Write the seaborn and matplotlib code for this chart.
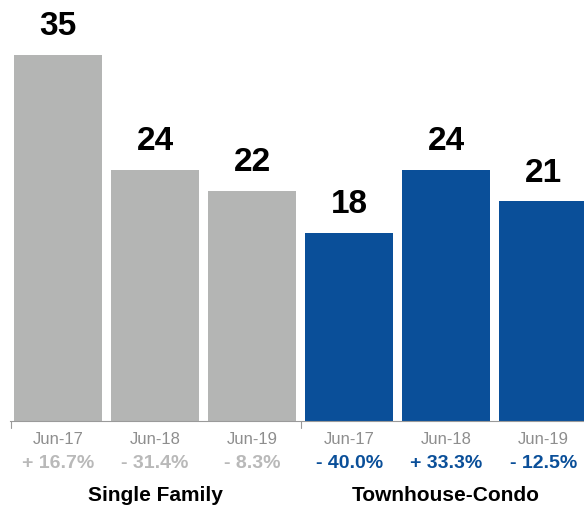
import matplotlib
matplotlib.use("Agg")
import matplotlib.pyplot as plt
import matplotlib.transforms as mtransforms
import seaborn as sns
import pandas as pd

# chart data
groups = ["Single Family", "Single Family", "Single Family",
          "Townhouse-Condo", "Townhouse-Condo", "Townhouse-Condo"]
periods = ["Jun-17", "Jun-18", "Jun-19", "Jun-17", "Jun-18", "Jun-19"]
values = [35, 24, 22, 18, 24, 21]
changes = ["+ 16.7%", "- 31.4%", "- 8.3%", "- 40.0%", "+ 33.3%", "- 12.5%"]
group_names = ["Single Family", "Townhouse-Condo"]

gray = "#b4b5b4"
blue = "#0a4f99"
group_colors = {"Single Family": gray, "Townhouse-Condo": blue}
change_colors = {"Single Family": "#b9b9b9", "Townhouse-Condo": blue}

df = pd.DataFrame({
    "slot": [f"{g} {p}" for g, p in zip(groups, periods)],
    "group": groups,
    "value": values,
})

sns.set_style("white")
plt.rcParams["font.family"] = ["Liberation Sans", "DejaVu Sans"]

fig = plt.figure(figsize=(5.84, 5.09), dpi=100)
ax = fig.add_axes([10 / 584, 88 / 509, 574 / 584, 421 / 509])

sns.barplot(data=df, x="slot", y="value", hue="group", palette=group_colors,
            dodge=False, width=0.91, legend=False, ax=ax, saturation=1,
            linewidth=0)

ax.set_xlim(-0.495, 5.42)
ax.set_ylim(0, 40.25)
ax.set_xlabel("")
ax.set_ylabel("")
ax.set_yticks([])
for side in ["top", "right", "left"]:
    ax.spines[side].set_visible(False)
ax.spines["bottom"].set_color("#9a9a9a")
ax.spines["bottom"].set_linewidth(0.8)

# period labels under each bar
ax.set_xticks(range(len(periods)))
ax.set_xticklabels(periods, color="#8e8e8e", fontsize=12)
ax.tick_params(axis="x", length=0, pad=8)

# group separator ticks
trans = mtransforms.blended_transform_factory(ax.transData, ax.transAxes)
for xpos in [-0.48, 2.5]:
    ax.plot([xpos, xpos], [0, -0.017], transform=trans, color="#9a9a9a",
            lw=0.8, clip_on=False)

# value labels above bars
for i, v in enumerate(values):
    ax.annotate(str(v), (i, v), xytext=(0, 9), textcoords="offset points",
                ha="center", va="bottom", fontsize=24, fontweight="bold",
                color="black")

# percent change labels
for i, (c, g) in enumerate(zip(changes, groups)):
    ax.text(i, -0.1, c, transform=trans, ha="center", va="center",
            fontsize=14, fontweight="bold", color=change_colors[g])

# group names
for j, name in enumerate(group_names):
    ax.text(1 + 3 * j, -0.178, name, transform=trans, ha="center",
            va="center", fontsize=15, fontweight="bold", color="black")

fig.savefig("out.png", dpi=100)
